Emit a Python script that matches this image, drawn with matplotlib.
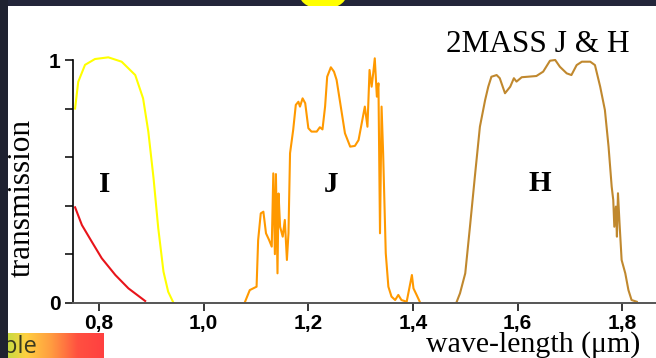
import matplotlib
matplotlib.use("Agg")
import matplotlib.pyplot as plt
import numpy as np
from matplotlib.patches import Rectangle, Ellipse
from matplotlib.colors import LinearSegmentedColormap

# ---------------- data ----------------
i_wave = [0.754, 0.760, 0.773, 0.792, 0.8175, 0.843, 0.869, 0.884, 0.894, 0.904, 0.913, 0.923, 0.932, 0.942]
i_trans = [0.80, 0.91, 0.98, 1.004, 1.011, 0.993, 0.938, 0.842, 0.705, 0.513, 0.307, 0.128, 0.045, 0.0]

red_wave = [0.754, 0.767, 0.786, 0.805, 0.831, 0.856, 0.888]
red_trans = [0.393, 0.32, 0.251, 0.183, 0.114, 0.059, 0.007]

j_wave = [1.079, 1.088, 1.101, 1.104, 1.109, 1.114, 1.119, 1.125, 1.130, 1.133, 1.136, 1.138, 1.141,
          1.143, 1.146, 1.151, 1.155, 1.159, 1.162, 1.165, 1.171, 1.176, 1.181, 1.184, 1.189, 1.194,
          1.200, 1.206, 1.216, 1.222, 1.227, 1.232, 1.236, 1.243, 1.249, 1.254, 1.261, 1.270, 1.280,
          1.289, 1.296, 1.302, 1.308, 1.313, 1.317, 1.321, 1.324, 1.327, 1.331, 1.334, 1.337, 1.340,
          1.343, 1.348, 1.353, 1.359, 1.366, 1.372, 1.378, 1.388, 1.398, 1.401, 1.407, 1.413]
j_trans = [0.004, 0.052, 0.066, 0.258, 0.368, 0.375, 0.286, 0.258, 0.231, 0.533, 0.20, 0.53, 0.121,
           0.45, 0.313, 0.272, 0.341, 0.176, 0.286, 0.616, 0.712, 0.815, 0.828, 0.808, 0.842, 0.822,
           0.719, 0.705, 0.705, 0.723, 0.714, 0.808, 0.931, 0.970, 0.952, 0.918, 0.822, 0.698, 0.643,
           0.646, 0.670, 0.739, 0.808, 0.725, 0.959, 0.890, 0.945, 1.007, 0.849, 0.904, 0.286, 0.808,
           0.616, 0.204, 0.066, 0.025, 0.011, 0.032, 0.011, 0.004, 0.114, 0.059, 0.032, 0.004]

h_wave = [1.483, 1.490, 1.500, 1.509, 1.519, 1.528, 1.538, 1.544, 1.550, 1.560, 1.566, 1.576, 1.586, 1.593,
          1.598, 1.608, 1.636, 1.649, 1.662, 1.672, 1.681, 1.694, 1.703, 1.713, 1.723, 1.739, 1.748,
          1.758, 1.767, 1.774, 1.780, 1.783, 1.785, 1.788, 1.790, 1.792, 1.795, 1.799, 1.806, 1.812,
          1.818, 1.828]
h_trans = [0.0, 0.039, 0.121, 0.313, 0.533, 0.725, 0.835, 0.890, 0.931, 0.938, 0.925, 0.863, 0.890, 0.925,
           0.911, 0.929, 0.934, 0.952, 0.997, 1.000, 0.972, 0.945, 0.938, 0.979, 0.993, 0.993, 0.979,
           0.890, 0.794, 0.643, 0.478, 0.423, 0.313, 0.396, 0.272, 0.451, 0.327, 0.176, 0.121, 0.052,
           0.011, 0.004]

x_ticks = [0.8, 1.0, 1.2, 1.4, 1.6, 1.8]
x_tick_labels = ["0,8", "1,0", "1,2", "1,4", "1,6", "1,8"]
y_ticks = [0, 0.2, 0.4, 0.6, 0.8, 1.0]
y_tick_labels = ["0", "", "", "", "", "1"]

band_names = ["I", "J", "H"]
band_pos_x = [0.811, 1.243, 1.643]
band_pos_y = [0.485, 0.485, 0.49]

# ---------------- figure ----------------
W, H = 656, 358
fig = plt.figure(figsize=(W / 100, H / 100), dpi=100, facecolor="#23263a")

def fx(px):
    return px / W

def fy(py):
    return 1 - py / H

# yellow blob at top (cut-off title letter)
fig.add_artist(Ellipse((fx(323), fy(-4)), 46 / W, 26 / H, transform=fig.transFigure,
                       facecolor="#ffff00", edgecolor="none", zorder=0))
# white slide area
fig.add_artist(Rectangle((fx(8), 0), 1 - fx(8), fy(6), transform=fig.transFigure,
                         facecolor="white", edgecolor="none", zorder=1))

ax_left, ax_bottom = fx(73), fy(302.7)
ylim_top = 1.1
ax_h = ylim_top * 242.7 / H
ax = fig.add_axes([ax_left, ax_bottom, 1 - ax_left, ax_h])
ax.set_facecolor("none")
ax.set_zorder(3)

lw = 1.5
ax.plot(i_wave, i_trans, color="#ffff00", lw=lw, solid_joinstyle="round")
ax.plot(red_wave, red_trans, color="#e8141a", lw=lw)
ax.plot(j_wave, j_trans, color="#ff9900", lw=lw)
ax.plot(h_wave, h_trans, color="#c0882e", lw=lw)

ax.set_xlim(0.75, 0.75 + 583 / 523)
ax.set_ylim(0, ylim_top)

for s in ["top", "right"]:
    ax.spines[s].set_visible(False)
ax.spines["left"].set_bounds(0, 1)
ax.spines["left"].set_linewidth(1.2)
ax.spines["bottom"].set_linewidth(1.4)
ax.spines["bottom"].set_color("#555555")

ax.set_xticks(x_ticks)
ax.set_xticklabels(x_tick_labels)
ax.set_yticks(y_ticks)
ax.set_yticklabels(y_tick_labels)
ax.tick_params(axis="both", direction="out", length=6, width=1.1, pad=3)
ax.tick_params(axis="x", pad=2)
for lab in ax.get_xticklabels() + ax.get_yticklabels():
    lab.set_fontfamily("Liberation Sans")
    lab.set_fontweight("bold")
    lab.set_fontsize(15)

for name, bx, by in zip(band_names, band_pos_x, band_pos_y):
    ax.text(bx, by, name, ha="center", va="center", fontfamily="Liberation Serif",
            fontweight="bold", fontsize=21, color="black")

fig.text(fx(630), fy(45), "2MASS J & H", ha="right", va="center",
         fontfamily="Liberation Serif", fontsize=22.5, color="black", zorder=4)
fig.text(fx(640), fy(358), "wave-length (\u03bcm)", ha="right", va="bottom",
         fontfamily="Liberation Serif", fontsize=21.5, color="black", zorder=4)
fig.text(fx(22), fy(198), "transmission", ha="center", va="center", rotation=90,
         fontfamily="Liberation Serif", fontsize=22.5, color="black", zorder=4)

# gradient bar bottom-left
cmap = LinearSegmentedColormap.from_list("vis", ["#b0e040", "#ffd040", "#ff9a40", "#ff5040", "#ff4040"])
gax = fig.add_axes([fx(0), 0, fx(104), (358 - 333) / H])
gax.imshow(np.linspace(0, 1, 256)[None, :], aspect="auto", cmap=cmap, extent=[0, 104, 0, 1])
gax.set_xlim(0, 104)
gax.axis("off")
gax.set_zorder(5)
gax.text(3, 0.45, "ble", ha="left", va="center", fontfamily="Open Sans", fontsize=17, color="#3a3a20")

# dark left strip
fig.add_artist(Rectangle((0, 0), fx(8), 1, transform=fig.transFigure,
                         facecolor="#1f2230", edgecolor="none", zorder=10))

fig.savefig("out.png", dpi=100, facecolor=fig.get_facecolor())
